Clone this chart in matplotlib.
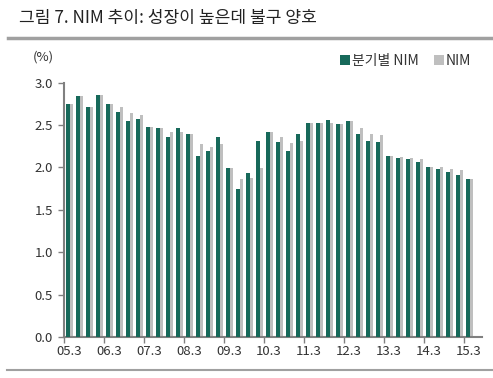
import matplotlib
matplotlib.use("Agg")
import matplotlib.pyplot as plt
import numpy as np

plt.rcParams['font.family'] = ['Noto Sans CJK KR', 'DejaVu Sans']

title = "그림 7. NIM 추이: 성장이 높은데 불구 양호"
series_names = ["분기별 NIM", "NIM"]
xlabels = ["05.3", "06.3", "07.3", "08.3", "09.3", "10.3", "11.3", "12.3", "13.3", "14.3", "15.3"]

quarterly_nim = [2.75, 2.84, 2.71, 2.85, 2.75, 2.65, 2.55, 2.57, 2.48, 2.46,
                 2.36, 2.46, 2.40, 2.13, 2.20, 2.36, 1.99, 1.75, 1.94, 2.31,
                 2.42, 2.30, 2.19, 2.39, 2.52, 2.52, 2.56, 2.51, 2.55, 2.40,
                 2.31, 2.30, 2.13, 2.11, 2.10, 2.06, 2.00, 1.98, 1.95, 1.91,
                 1.86]
nim = [2.75, 2.84, 2.71, 2.85, 2.75, 2.71, 2.64, 2.62, 2.48, 2.46,
       2.42, 2.42, 2.40, 2.28, 2.24, 2.28, 1.99, 1.86, 1.88, 1.99,
       2.42, 2.36, 2.29, 2.31, 2.52, 2.52, 2.52, 2.51, 2.55, 2.47,
       2.40, 2.38, 2.13, 2.12, 2.11, 2.10, 2.00, 2.00, 1.98, 1.97,
       1.86]

GREEN = "#17695a"
GRAY = "#bfbfbf"
TXT = "#333333"

fig = plt.figure(figsize=(4.93, 3.78), dpi=100)
ax = fig.add_axes([64/493, 1-337/378, (482-64)/493, (337-82.7)/378])

x = np.arange(len(quarterly_nim))
w = 0.33
gray_bars = ax.bar(x + 0.23, nim, width=w, color=GRAY, zorder=2)
green_bars = ax.bar(x - 0.10, quarterly_nim, width=w, color=GREEN, zorder=3)

ax.set_xlim(-0.5, 41.3)
ax.set_ylim(0, 3.0)
yt = np.arange(0, 3.01, 0.5)
ax.set_yticks(yt)
ax.set_yticklabels([f"{v:.1f}" for v in yt], fontsize=9.5, color=TXT)

ax.set_xticks(np.arange(0, 41, 4))
ax.set_xticklabels(xlabels, fontsize=9.5, color=TXT)
ax.tick_params(axis='x', which='major', length=0, pad=6)
ax.set_xticks(np.arange(-0.5, 40, 4), minor=True)
ax.tick_params(axis='x', which='minor', length=4, width=1, color="#808080", direction='out')
ax.tick_params(axis='y', length=4, width=1, color="#808080", pad=4)

for s in ['top', 'right']:
    ax.spines[s].set_visible(False)
for s in ['left', 'bottom']:
    ax.spines[s].set_color("#808080")
    ax.spines[s].set_linewidth(1.5)

fig.text(33/493, 1-57/378, "(%)", fontsize=9.5, color=TXT, va='center', ha='left')

leg = ax.legend(handles=[green_bars, gray_bars], labels=series_names,
                loc='center right', bbox_to_anchor=(471/493, 1-61/378),
                bbox_transform=fig.transFigure, ncol=2, frameon=False, fontsize=10,
                handlelength=0.7, handleheight=0.7, handletextpad=0.15, columnspacing=1.1,
                borderaxespad=0, borderpad=0)
for t in leg.get_texts():
    t.set_color(TXT)

fig.text(19/493, 1-18/378, title, fontsize=12.3, color="#222222", va='center', ha='left')
fig.add_artist(plt.Line2D([8/493, 1], [1-38/378, 1-38/378], color="#a0a0a0", linewidth=2.5, transform=fig.transFigure))
fig.add_artist(plt.Line2D([7/493, 1], [1-370/378, 1-370/378], color="#a0a0a0", linewidth=1.5, transform=fig.transFigure))

fig.savefig("out.png", dpi=100)
